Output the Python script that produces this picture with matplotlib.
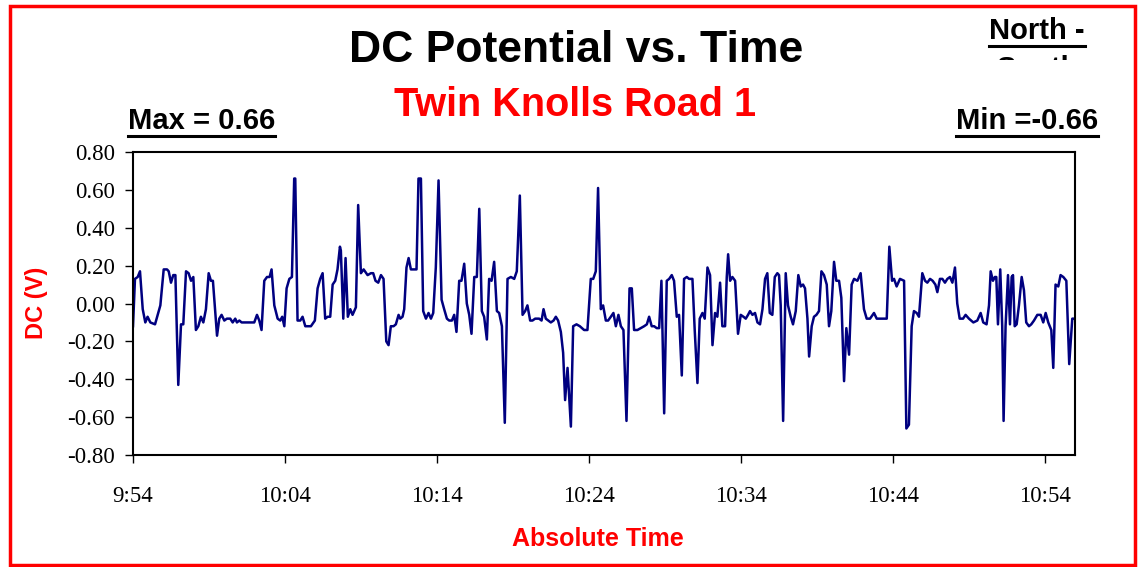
import matplotlib
matplotlib.use("Agg")
import matplotlib.pyplot as plt
from matplotlib.lines import Line2D
from matplotlib.patches import Rectangle

# data: minutes after 9:54 and DC potential (V)
t_a = [0.00, 0.13, 0.31, 0.46, 0.64, 0.81, 0.96, 1.14, 1.45, 1.80, 2.02, 2.24, 2.35, 2.50, 2.65,
       2.79, 2.98, 3.16, 3.31, 3.49, 3.66, 3.82, 3.97, 4.14, 4.30, 4.47, 4.63, 4.80, 4.98, 5.13,
       5.26, 5.53, 5.68, 5.83, 6.01, 6.18, 6.40, 6.56, 6.73, 6.84, 7.00, 7.15, 7.98, 8.16, 8.31,
       8.46, 8.64, 8.82, 8.99, 9.12, 9.30, 9.52, 9.69, 9.82, 9.96, 10.11, 10.29, 10.46, 10.61, 10.68,
       10.83, 11.01, 11.16, 11.34, 11.71, 11.97, 12.15, 12.32, 12.48, 12.65, 12.81, 12.98, 13.14,
       13.31, 13.46, 13.62, 13.68, 13.84, 13.99, 14.14, 14.30, 14.45, 14.67, 14.82]
v_a = [-0.12, 0.13, 0.14, 0.17, -0.03, -0.10, -0.07, -0.10, -0.11, -0.01, 0.18, 0.18, 0.17, 0.11, 0.15,
       0.15, -0.43, -0.11, -0.11, 0.17, 0.16, 0.12, 0.14, -0.14, -0.12, -0.07, -0.10, -0.03, 0.16, 0.12,
       0.12, -0.17, -0.08, -0.06, -0.09, -0.08, -0.08, -0.10, -0.08, -0.10, -0.09, -0.10, -0.10, -0.06, -0.09,
       -0.14, 0.12, 0.14, 0.14, 0.18, -0.01, -0.08, -0.09, -0.07, -0.12, 0.08, 0.13, 0.14, 0.66, 0.66,
       -0.09, -0.09, -0.07, -0.12, -0.12, -0.09, 0.08, 0.13, 0.16, -0.08, -0.07, -0.07, 0.10,
       0.12, 0.18, 0.30, 0.28, -0.08, 0.24, -0.07, -0.03, -0.06, -0.02, 0.52]

t_b = [15.00, 15.18, 15.44, 15.66, 15.81, 15.96, 16.14, 16.32, 16.49, 16.67, 16.82, 16.97, 17.15, 17.30,
       17.48, 17.59, 17.74, 17.85, 18.00, 18.14, 18.29, 18.51, 18.66, 18.79, 18.95, 19.10, 19.28, 19.45,
       19.61, 19.76, 19.93, 20.11, 20.31, 20.48, 20.66, 20.81, 20.99, 21.14, 21.29, 21.47, 21.62, 21.80,
       21.97, 22.13, 22.28, 22.46, 22.63, 22.79, 22.96, 23.11, 23.29, 23.44, 23.60, 23.77, 23.95, 24.10,
       24.28, 24.47, 24.65, 24.87, 25.09, 25.26, 25.46, 25.64, 25.81, 25.96, 26.14, 26.29, 26.47, 26.73,
       26.89, 27.02, 27.17, 27.50, 27.68, 27.83, 27.98, 28.16, 28.31, 28.44, 28.60, 28.82, 28.97, 29.19,
       29.41, 29.69, 29.91]
v_b = [0.16, 0.18, 0.15, 0.16, 0.16, 0.12, 0.11, 0.15, 0.13, -0.20, -0.22, -0.12, -0.12, -0.11,
       -0.06, -0.08, -0.07, -0.03, 0.19, 0.24, 0.18, 0.18, 0.18, 0.66, 0.66, -0.04, -0.08, -0.05,
       -0.08, -0.05, 0.19, 0.65, 0.02, -0.03, -0.08, -0.09, -0.09, -0.06, -0.15, 0.12, 0.12, 0.21,
       0.00, -0.06, -0.16, 0.14, 0.14, 0.50, -0.04, -0.07, -0.19, 0.13, 0.12, 0.22, -0.04, -0.05,
       -0.12, -0.63, 0.13, 0.14, 0.13, 0.17, 0.57, -0.06, -0.04, -0.01, -0.09, -0.09, -0.08, -0.08,
       -0.09, -0.03, -0.08, -0.10, -0.09, -0.07, -0.09, -0.15, -0.26, -0.51, -0.34, -0.65, -0.12, -0.11,
       -0.12, -0.14, -0.14]

t_c = [30.13, 30.29, 30.46, 30.61, 30.79, 30.94, 31.12, 31.27, 31.45, 31.62, 31.78, 31.95, 32.11, 32.28,
       32.48, 32.68, 32.83, 32.98, 33.20, 33.42, 33.64, 33.82, 33.97, 34.14, 34.30, 34.47, 34.63, 34.78,
       34.96, 35.13, 35.29, 35.46, 35.61, 35.79, 35.94, 36.12, 36.27, 36.45, 36.60, 36.82, 36.97, 37.15,
       37.30, 37.48, 37.63, 37.81, 37.98, 38.14, 38.31, 38.46, 38.64, 38.79, 38.97, 39.08, 39.17, 39.30,
       39.45, 39.63, 39.82, 40.00, 40.18, 40.33, 40.48, 40.61, 40.77, 40.94, 41.10, 41.27, 41.43, 41.60,
       41.75, 41.91, 42.08, 42.24, 42.41, 42.52, 42.63, 42.79, 42.96, 43.11, 43.29, 43.44, 43.62, 43.79,
       43.95, 44.10, 44.23, 44.39, 44.50, 44.67, 44.82, 44.98, 45.15, 45.31, 45.48]
v_c = [0.13, 0.13, 0.17, 0.61, -0.03, -0.01, -0.09, -0.09, -0.07, -0.05, -0.12, -0.06, -0.12, -0.14,
       -0.62, 0.08, 0.08, -0.14, -0.14, -0.13, -0.12, -0.11, -0.07, -0.12, -0.12, -0.13, -0.13, 0.12,
       -0.58, 0.12, 0.13, 0.15, 0.12, -0.07, -0.06, -0.38, 0.13, 0.14, 0.13, 0.13, -0.14, -0.42,
       -0.08, -0.05, -0.08, 0.19, 0.15, -0.22, -0.05, -0.07, 0.11, -0.12, -0.12, 0.14, 0.26, 0.12,
       0.14, 0.12, -0.16, -0.06, -0.07, -0.08, -0.06, -0.04, -0.06, -0.05, -0.10, -0.11, -0.03, 0.13,
       0.16, -0.05, -0.06, 0.14, 0.16, 0.15, -0.01, -0.62, 0.16, -0.01, -0.07, -0.11, -0.04, 0.15,
       0.09, 0.10, 0.08, -0.08, -0.28, -0.12, -0.07, -0.06, -0.04, 0.17, 0.15]

t_d = [45.66, 45.81, 45.96, 46.14, 46.29, 46.47, 46.62, 46.80, 46.95, 47.13, 47.30, 47.46, 47.68, 47.89,
       48.11, 48.29, 48.51, 48.77, 48.95, 49.21, 49.61, 49.78, 49.96, 50.09, 50.26, 50.48, 50.75, 50.90,
       51.07, 51.25, 51.40, 51.58, 51.73, 51.95, 52.13, 52.28, 52.46, 52.63, 52.81, 52.94, 53.11, 53.27,
       53.44, 53.60, 53.77, 53.93, 54.10, 54.25, 54.41, 54.63, 54.80, 55.02, 55.31, 55.57, 55.79, 55.96,
       56.18, 56.34, 56.45, 56.60, 56.73, 56.82, 56.93, 57.08, 57.21, 57.30, 57.43, 57.59, 57.72, 57.83,
       57.92, 58.03, 58.16, 58.31, 58.49, 58.64, 58.79, 58.97, 59.12, 59.30, 59.52, 59.74, 59.91, 60.07,
       60.24, 60.44, 60.57, 60.72, 60.90, 61.05, 61.23, 61.43, 61.62, 61.82, 61.93]
v_d = [0.10, -0.12, -0.04, 0.22, 0.12, 0.12, 0.03, -0.41, -0.13, -0.27, 0.10, 0.13, 0.12, 0.16,
       -0.03, -0.08, -0.08, -0.05, -0.08, -0.08, -0.08, 0.30, 0.12, 0.13, 0.09, 0.13, 0.12, -0.66,
       -0.64, -0.12, -0.04, -0.05, -0.07, 0.16, 0.12, 0.11, 0.13, 0.12, 0.10, 0.06, 0.13, 0.13,
       0.11, 0.13, 0.14, 0.11, 0.19, 0.00, -0.08, -0.08, -0.06, -0.08, -0.10, -0.09, -0.05, -0.10,
       -0.11, -0.01, 0.17, 0.12, 0.14, 0.14, -0.11, 0.18, -0.12, -0.62, -0.12, 0.15, -0.11, 0.14,
       0.15, -0.12, -0.11, -0.01, 0.14, 0.07, -0.10, -0.12, -0.11, -0.09, -0.06, -0.06, -0.10, -0.05,
       -0.10, -0.14, -0.34, 0.10, 0.09, 0.15, 0.14, 0.12, -0.32, -0.08, -0.08]

tick_minutes = [0, 10, 20, 30, 40, 50, 60]
tick_labels = ["9:54", "10:04", "10:14", "10:24", "10:34", "10:44", "10:54"]
y_ticks = [-0.8, -0.6, -0.4, -0.2, 0.0, 0.2, 0.4, 0.6, 0.8]

minutes = t_a + t_b + t_c + t_d
volts = v_a + v_b + v_c + v_d
assert len(minutes) == len(volts), (len(minutes), len(volts))

W, H = 1138, 567
sans = ["Liberation Sans", "DejaVu Sans"]
serif = ["Liberation Serif", "DejaVu Serif"]

fig = plt.figure(figsize=(W / 100, H / 100), dpi=100)
fig.patch.set_facecolor("white")

# red frame round the whole chart
fig.add_artist(Rectangle((10 / W, 1 - 565 / H), 1125 / W, 559 / H, transform=fig.transFigure,
                         fill=False, edgecolor="#ff0000", linewidth=2.5))

ax = fig.add_axes([133 / W, 1 - 455 / H, (1075 - 133) / W, (455 - 152) / H])
ax.plot(minutes, volts, color="#000080", linewidth=1.8)
ax.set_xlim(0, 62)
ax.set_ylim(-0.8, 0.8)
ax.set_yticks(y_ticks)
ax.set_yticklabels([f"{v:.2f}" for v in y_ticks], family=serif, fontsize=16.5)
ax.set_xticks(tick_minutes)
ax.set_xticklabels(tick_labels, family=serif, fontsize=16.5)
ax.tick_params(axis="y", direction="out", length=6, width=1, pad=7)
ax.tick_params(axis="x", direction="out", length=6, width=1, pad=16)
for s in ax.spines.values():
    s.set_linewidth(1.5)

fig.text(37 / W, 1 - 303 / H, "DC (V)", rotation=90, color="#ff0000", fontsize=17,
         fontweight="bold", family=sans, ha="center", va="center")
fig.text(598 / W, 1 - 539 / H, "Absolute Time", color="#ff0000", fontsize=18,
         fontweight="bold", family=sans, ha="center", va="center")

fig.text(576 / W, 1 - 51 / H, "DC Potential vs. Time", color="black", fontsize=32,
         fontweight="bold", family=sans, ha="center", va="center")
fig.text(575 / W, 1 - 105 / H, "Twin Knolls Road 1", color="#ff0000", fontsize=28.5,
         fontweight="bold", family=sans, ha="center", va="center")

# underlined labels
under = []
under.append(fig.text(128 / W, 1 - 121 / H, "Max = 0.66", fontsize=21, fontweight="bold",
                      family=sans, ha="left", va="center"))
under.append(fig.text(1098 / W, 1 - 121 / H, "Min =-0.66", fontsize=21, fontweight="bold",
                      family=sans, ha="right", va="center"))
under.append(fig.text(1037 / W, 1 - 31 / H, "North -", fontsize=21, fontweight="bold",
                      family=sans, ha="center", va="center"))

# second line of the text box, cut off by the box edge
south = fig.text(1037 / W, 1 - 55 / H, "South", fontsize=21, fontweight="bold",
                 family=sans, ha="center", va="top")
south.set_clip_path(Rectangle((900 / W, 1 - 60 / H), 230 / W, 20 / H, transform=fig.transFigure))

fig.canvas.draw()
r = fig.canvas.get_renderer()
for t in under:
    bb = t.get_window_extent(r)
    y = (bb.y0 - 1) / fig.bbox.height
    fig.add_artist(Line2D([bb.x0 / fig.bbox.width, bb.x1 / fig.bbox.width], [y, y],
                          transform=fig.transFigure, color="black", linewidth=2.2))

fig.savefig("out.png", dpi=100, facecolor="white")
